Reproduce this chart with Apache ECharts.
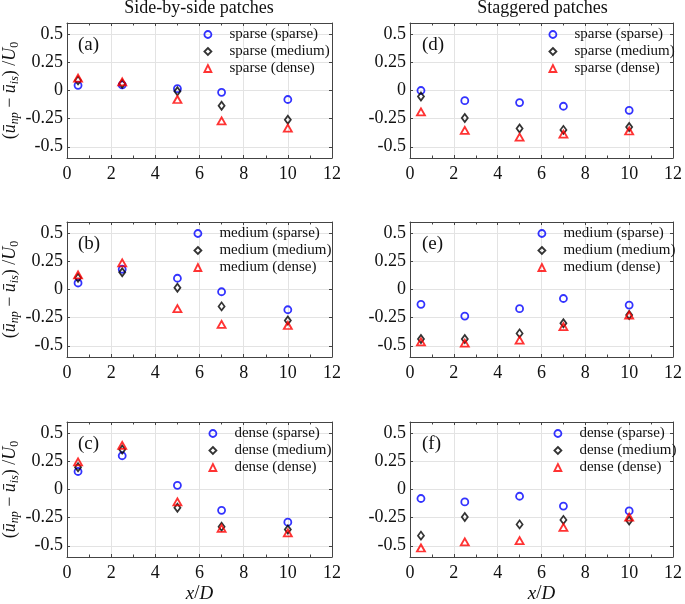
<!DOCTYPE html>
<html>
<head>
<meta charset="utf-8">
<script src="https://cdn.jsdelivr.net/npm/echarts@6/dist/echarts.min.js"></script>
<style>html,body{margin:0;padding:0;background:#fff}#c{width:685px;height:604px}</style>
</head>
<body>
<div id="c"></div>
<script>
// ---- data ----
const xPositions = [0.5, 2.5, 5, 7, 10];
const xTicks = { min: 0, max: 12, interval: 2 };
const yTickValues = [-0.5, -0.25, 0, 0.25, 0.5];
const yRange = [-0.6, 0.6];
const patchDensities = ['sparse', 'medium', 'dense'];
const columnTitles = ['Side-by-side patches', 'Staggered patches'];
const panelLetters = ['(a)', '(b)', '(c)', '(d)', '(e)', '(f)'];

// side-by-side
const a_sparse = [0.046, 0.05, 0.016, -0.016, -0.08];
const a_medium = [0.09, 0.06, -0.007, -0.136, -0.26];
const a_dense  = [0.11, 0.076, -0.08, -0.27, -0.335];
const b_sparse = [0.058, 0.18, 0.10, -0.02, -0.18];
const b_medium = [0.105, 0.153, 0.016, -0.15, -0.275];
const b_dense  = [0.13, 0.236, -0.17, -0.31, -0.32];
const c_sparse = [0.16, 0.30, 0.037, -0.185, -0.29];
const c_medium = [0.197, 0.355, -0.162, -0.33, -0.355];
const c_dense  = [0.245, 0.393, -0.11, -0.345, -0.385];
// staggered
const d_sparse = [0.0, -0.09, -0.107, -0.14, -0.176];
const d_medium = [-0.054, -0.245, -0.337, -0.35, -0.325];
const d_dense  = [-0.19, -0.355, -0.415, -0.387, -0.36];
const e_sparse = [-0.132, -0.236, -0.17, -0.08, -0.138];
const e_medium = [-0.44, -0.44, -0.39, -0.30, -0.227];
const e_dense  = [-0.465, -0.477, -0.45, -0.33, -0.227];
const f_sparse = [-0.08, -0.11, -0.06, -0.147, -0.19];
const f_medium = [-0.41, -0.245, -0.31, -0.27, -0.275];
const f_dense  = [-0.52, -0.465, -0.455, -0.337, -0.245];

const panelData = [
  [a_sparse, a_medium, a_dense],
  [b_sparse, b_medium, b_dense],
  [c_sparse, c_medium, c_dense],
  [d_sparse, d_medium, d_dense],
  [e_sparse, e_medium, e_dense],
  [f_sparse, f_medium, f_dense]
];

// ---- layout / style ----
const FONT = '"Liberation Serif", "DejaVu Serif", serif';
const colLeft = [66, 410];
const colWidth = [266, 265];
const rowTop = [23, 222, 422];
const plotH = 135;
const markerStyle = [
  { symbol: 'circle', size: 7, color: '#0000ff' },
  { symbol: 'diamond', size: [6, 8], color: '#000000' },
  { symbol: 'triangle', size: [8, 7], color: '#ff0000' }
];
const legendX = [[207, 197, 212], [552, 541, 557]];
const AX = '#444';

const grid = [], xAxis = [], yAxis = [], series = [], legend = [], graphic = [];

for (let p = 0; p < 6; p++) {
  const col = Math.floor(p / 3), row = p % 3;
  const group = patchDensities[row];
  grid.push({ left: colLeft[col], top: rowTop[row], width: colWidth[col], height: plotH });
  const isBottom = row === 2;
  xAxis.push({
    type: 'value', gridIndex: p, min: xTicks.min, max: xTicks.max, interval: xTicks.interval,
    position: 'bottom',
    axisLine: { show: true, onZero: false, lineStyle: { color: AX, width: 1 } },
    axisTick: { show: true, inside: true, length: 3, lineStyle: { color: AX } },
    minorTick: { show: true, splitNumber: 2, length: 2.5, lineStyle: { color: AX } },
    axisLabel: { show: true, fontFamily: FONT, fontSize: 18, color: '#111', margin: 7 },
    splitLine: { show: true, lineStyle: { color: '#e3e3e3', width: 1 } },
    name: isBottom ? '{i|x}{n|/}{i|D}' : '',
    nameLocation: 'middle', nameGap: 27,
    nameTextStyle: { rich: {
      i: { fontFamily: FONT, fontStyle: 'italic', fontSize: 19, color: '#111' },
      n: { fontFamily: FONT, fontSize: 19, color: '#111' } } }
  });
  xAxis.push({
    type: 'value', gridIndex: p, min: xTicks.min, max: xTicks.max, interval: xTicks.interval,
    position: 'top',
    axisLine: { show: true, onZero: false, lineStyle: { color: AX, width: 1 } },
    axisTick: { show: true, inside: true, length: 3, lineStyle: { color: AX } },
    minorTick: { show: true, splitNumber: 2, length: 2.5, lineStyle: { color: AX } },
    axisLabel: { show: false }, splitLine: { show: false }
  });
  const isLeft = col === 0;
  yAxis.push({
    type: 'value', gridIndex: p, min: yRange[0], max: yRange[1], position: 'left',
    axisLine: { show: true, onZero: false, lineStyle: { color: AX, width: 1 } },
    axisTick: { show: true, inside: true, length: 3, customValues: yTickValues, lineStyle: { color: AX } },
    axisLabel: { show: true, customValues: yTickValues, fontFamily: FONT, fontSize: 18, color: '#111', margin: 4 },
    splitLine: { show: true, lineStyle: { color: '#e3e3e3', width: 1 } },
    name: isLeft ? '{p|(}{u|ū}{s|np}{p| − }{u|ū}{s|is}{p|) /}{u|U}{z|0}' : '',
    nameLocation: 'middle', nameRotate: 90, nameGap: 46,
    nameTextStyle: { rich: {
      p: { fontFamily: FONT, fontSize: 18, color: '#111', lineHeight: 22 },
      u: { fontFamily: FONT, fontStyle: 'italic', fontSize: 18, color: '#111', lineHeight: 22 },
      s: { fontFamily: FONT, fontStyle: 'italic', fontSize: 12, color: '#111', verticalAlign: 'bottom', lineHeight: 12 },
      z: { fontFamily: FONT, fontSize: 12, color: '#111', verticalAlign: 'bottom', lineHeight: 12 } } }
  });
  yAxis.push({
    type: 'value', gridIndex: p, min: yRange[0], max: yRange[1], position: 'right',
    axisLine: { show: true, onZero: false, lineStyle: { color: AX, width: 1 } },
    axisTick: { show: true, inside: true, length: 3, customValues: yTickValues, lineStyle: { color: AX } },
    axisLabel: { show: false }, splitLine: { show: false }
  });

  const legendData = [];
  for (let k = 0; k < 3; k++) {
    const name = group + ' (' + patchDensities[k] + ')';
    const m = markerStyle[k];
    series.push({
      type: 'scatter', name: name, xAxisIndex: 2 * p, yAxisIndex: 2 * p,
      symbol: m.symbol, symbolSize: m.size, silent: true,
      itemStyle: { color: 'transparent', borderColor: m.color, borderWidth: 1.8 },
      data: xPositions.map((x, i) => [x, panelData[p][k][i]])
    });
    legendData.push({ name: name, icon: m.symbol,
      itemStyle: { color: 'transparent', borderColor: m.color, borderWidth: 1.8 } });
  }
  legend.push({
    orient: 'vertical', left: legendX[col][row] - 3.5, top: rowTop[row] + 3,
    padding: 0, itemGap: 0, itemWidth: 7, itemHeight: 7,
    textStyle: { fontFamily: FONT, fontSize: 15, color: '#111', lineHeight: 17, padding: [0, 0, 0, 13] },
    selectedMode: false,
    data: legendData
  });

  graphic.push({ type: 'text', x: colLeft[col] + 12, y: rowTop[row] + 22, silent: true,
    style: { text: panelLetters[p], font: '19px ' + FONT, fill: '#111', textVerticalAlign: 'middle', verticalAlign: 'middle' } });
}
for (let col = 0; col < 2; col++) {
  graphic.push({ type: 'text', x: colLeft[col] + colWidth[col] / 2, y: 8, silent: true,
    style: { text: columnTitles[col], font: '18px ' + FONT, fill: '#111', textAlign: 'center', align: 'center', textVerticalAlign: 'middle', verticalAlign: 'middle' } });
}

const chart = echarts.init(document.getElementById('c'), null, { renderer: 'canvas' });
chart.setOption({ animation: false, backgroundColor: '#fff', grid, xAxis, yAxis, series, legend, graphic });
</script>
</body>
</html>
